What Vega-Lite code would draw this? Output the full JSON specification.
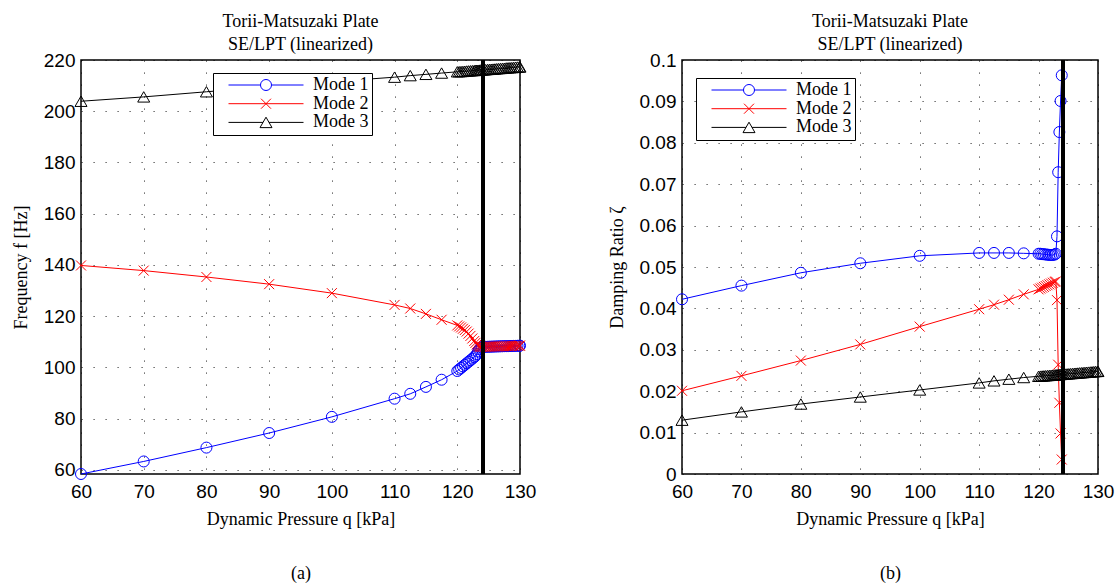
{
  "$schema": "https://vega.github.io/schema/vega-lite/v6.json",
  "background": "white",
  "padding": {"left": 11, "top": 12, "right": 2, "bottom": 2},
  "spacing": 70,
  "config": {
    "view": {"stroke": "black", "strokeWidth": 1.5},
    "axis": {
      "domain": false, "ticks": false, "grid": true, "gridColor": "black", "gridDash": [1.2, 10.8], "gridOpacity": 0.75, "gridWidth": 1, "labelFlush": false, "labelOverlap": false,
      "labelFont": "Liberation Sans", "labelFontSize": 19, "labelColor": "black", "labelPadding": 6,
      "titleFont": "Liberation Serif", "titleFontSize": 18, "titleFontWeight": "normal", "titleColor": "black", "titlePadding": 13
    },
    "title": {"font": "Liberation Serif", "fontSize": 18, "fontWeight": "normal", "color": "black", "lineHeight": 23, "anchor": "middle"}
  },
  "datasets": {
    "freq": [
      {"q":60,"m":"Mode 1","v":58.4},{"q":70,"m":"Mode 1","v":63.3},{"q":80,"m":"Mode 1","v":68.7},{"q":90,"m":"Mode 1","v":74.4},{"q":100,"m":"Mode 1","v":80.7},{"q":110,"m":"Mode 1","v":87.8},{"q":112.5,"m":"Mode 1","v":89.7},{"q":115,"m":"Mode 1","v":92.4},{"q":117.5,"m":"Mode 1","v":95.2},
      {"q":120,"m":"Mode 1","v":98.6},{"q":120.3,"m":"Mode 1","v":99.2},{"q":120.6,"m":"Mode 1","v":99.8},{"q":120.9,"m":"Mode 1","v":100.4},{"q":121.2,"m":"Mode 1","v":101.0},{"q":121.5,"m":"Mode 1","v":101.6},{"q":121.8,"m":"Mode 1","v":102.2},{"q":122.1,"m":"Mode 1","v":102.8},{"q":122.4,"m":"Mode 1","v":103.4},{"q":122.7,"m":"Mode 1","v":104.0},{"q":122.9,"m":"Mode 1","v":104.5},{"q":123.1,"m":"Mode 1","v":105.2},{"q":123.3,"m":"Mode 1","v":106.2},{"q":123.5,"m":"Mode 1","v":107.1},{"q":123.7,"m":"Mode 1","v":107.7},{"q":123.9,"m":"Mode 1","v":107.95},
      {"q":124.2,"m":"Mode 1","v":108.0},{"q":124.5,"m":"Mode 1","v":108.05},{"q":124.8,"m":"Mode 1","v":108.05},{"q":125.1,"m":"Mode 1","v":108.1},{"q":125.4,"m":"Mode 1","v":108.1},{"q":125.7,"m":"Mode 1","v":108.15},{"q":126,"m":"Mode 1","v":108.15},{"q":126.3,"m":"Mode 1","v":108.2},{"q":126.6,"m":"Mode 1","v":108.2},{"q":126.9,"m":"Mode 1","v":108.25},{"q":127.2,"m":"Mode 1","v":108.25},{"q":127.5,"m":"Mode 1","v":108.3},{"q":127.8,"m":"Mode 1","v":108.3},{"q":128.1,"m":"Mode 1","v":108.3},{"q":128.4,"m":"Mode 1","v":108.35},{"q":128.7,"m":"Mode 1","v":108.35},{"q":129,"m":"Mode 1","v":108.4},{"q":129.3,"m":"Mode 1","v":108.4},{"q":129.6,"m":"Mode 1","v":108.45},{"q":129.9,"m":"Mode 1","v":108.45},{"q":130,"m":"Mode 1","v":108.5},
      {"q":60,"m":"Mode 2","v":139.8},{"q":70,"m":"Mode 2","v":137.8},{"q":80,"m":"Mode 2","v":135.3},{"q":90,"m":"Mode 2","v":132.5},{"q":100,"m":"Mode 2","v":129.0},{"q":110,"m":"Mode 2","v":124.4},{"q":112.5,"m":"Mode 2","v":123.0},{"q":115,"m":"Mode 2","v":120.9},{"q":117.5,"m":"Mode 2","v":118.6},
      {"q":120,"m":"Mode 2","v":116.4},{"q":120.3,"m":"Mode 2","v":116.0},{"q":120.6,"m":"Mode 2","v":115.6},{"q":120.9,"m":"Mode 2","v":115.1},{"q":121.2,"m":"Mode 2","v":114.6},{"q":121.5,"m":"Mode 2","v":114.0},{"q":121.8,"m":"Mode 2","v":113.2},{"q":122.1,"m":"Mode 2","v":112.3},{"q":122.4,"m":"Mode 2","v":111.3},{"q":122.7,"m":"Mode 2","v":110.3},{"q":122.9,"m":"Mode 2","v":109.6},{"q":123.1,"m":"Mode 2","v":109.0},{"q":123.3,"m":"Mode 2","v":108.5},{"q":123.5,"m":"Mode 2","v":108.2},{"q":123.7,"m":"Mode 2","v":108.05},{"q":123.9,"m":"Mode 2","v":108.0},
      {"q":124.2,"m":"Mode 2","v":108.0},{"q":124.5,"m":"Mode 2","v":108.05},{"q":124.8,"m":"Mode 2","v":108.05},{"q":125.1,"m":"Mode 2","v":108.1},{"q":125.4,"m":"Mode 2","v":108.1},{"q":125.7,"m":"Mode 2","v":108.15},{"q":126,"m":"Mode 2","v":108.15},{"q":126.3,"m":"Mode 2","v":108.2},{"q":126.6,"m":"Mode 2","v":108.2},{"q":126.9,"m":"Mode 2","v":108.25},{"q":127.2,"m":"Mode 2","v":108.25},{"q":127.5,"m":"Mode 2","v":108.3},{"q":127.8,"m":"Mode 2","v":108.3},{"q":128.1,"m":"Mode 2","v":108.3},{"q":128.4,"m":"Mode 2","v":108.35},{"q":128.7,"m":"Mode 2","v":108.35},{"q":129,"m":"Mode 2","v":108.4},{"q":129.3,"m":"Mode 2","v":108.4},{"q":129.6,"m":"Mode 2","v":108.45},{"q":129.9,"m":"Mode 2","v":108.45},{"q":130,"m":"Mode 2","v":108.5},
      {"q":60,"m":"Mode 3","v":203.9},{"q":70,"m":"Mode 3","v":205.6},{"q":80,"m":"Mode 3","v":207.6},{"q":90,"m":"Mode 3","v":209.6},{"q":100,"m":"Mode 3","v":211.5},{"q":110,"m":"Mode 3","v":213.3},{"q":112.5,"m":"Mode 3","v":213.9},{"q":115,"m":"Mode 3","v":214.4},{"q":117.5,"m":"Mode 3","v":214.9},
      {"q":120,"m":"Mode 3","v":215.4},{"q":120.3,"m":"Mode 3","v":215.45},{"q":120.6,"m":"Mode 3","v":215.5},{"q":120.9,"m":"Mode 3","v":215.55},{"q":121.2,"m":"Mode 3","v":215.6},{"q":121.5,"m":"Mode 3","v":215.7},{"q":121.8,"m":"Mode 3","v":215.75},{"q":122.1,"m":"Mode 3","v":215.8},{"q":122.4,"m":"Mode 3","v":215.85},{"q":122.7,"m":"Mode 3","v":215.9},{"q":122.9,"m":"Mode 3","v":215.95},{"q":123.1,"m":"Mode 3","v":216.0},{"q":123.3,"m":"Mode 3","v":216.0},{"q":123.5,"m":"Mode 3","v":216.05},{"q":123.7,"m":"Mode 3","v":216.1},{"q":123.9,"m":"Mode 3","v":216.1},
      {"q":124.2,"m":"Mode 3","v":216.15},{"q":124.5,"m":"Mode 3","v":216.2},{"q":124.8,"m":"Mode 3","v":216.3},{"q":125.1,"m":"Mode 3","v":216.35},{"q":125.4,"m":"Mode 3","v":216.4},{"q":125.7,"m":"Mode 3","v":216.45},{"q":126,"m":"Mode 3","v":216.5},{"q":126.3,"m":"Mode 3","v":216.6},{"q":126.6,"m":"Mode 3","v":216.65},{"q":126.9,"m":"Mode 3","v":216.7},{"q":127.2,"m":"Mode 3","v":216.75},{"q":127.5,"m":"Mode 3","v":216.8},{"q":127.8,"m":"Mode 3","v":216.9},{"q":128.1,"m":"Mode 3","v":216.95},{"q":128.4,"m":"Mode 3","v":217.0},{"q":128.7,"m":"Mode 3","v":217.05},{"q":129,"m":"Mode 3","v":217.1},{"q":129.3,"m":"Mode 3","v":217.2},{"q":129.6,"m":"Mode 3","v":217.25},{"q":129.9,"m":"Mode 3","v":217.3},{"q":130,"m":"Mode 3","v":217.3}
    ],
    "damp": [
      {"q":60,"m":"Mode 1","v":0.0422},{"q":70,"m":"Mode 1","v":0.0455},{"q":80,"m":"Mode 1","v":0.0486},{"q":90,"m":"Mode 1","v":0.0509},{"q":100,"m":"Mode 1","v":0.0527},{"q":110,"m":"Mode 1","v":0.0534},{"q":112.5,"m":"Mode 1","v":0.0534},{"q":115,"m":"Mode 1","v":0.0534},{"q":117.5,"m":"Mode 1","v":0.0533},
      {"q":120,"m":"Mode 1","v":0.0532},{"q":120.3,"m":"Mode 1","v":0.0532},{"q":120.6,"m":"Mode 1","v":0.0531},{"q":120.9,"m":"Mode 1","v":0.0531},{"q":121.2,"m":"Mode 1","v":0.053},{"q":121.5,"m":"Mode 1","v":0.053},{"q":121.8,"m":"Mode 1","v":0.0529},{"q":122.1,"m":"Mode 1","v":0.0529},{"q":122.4,"m":"Mode 1","v":0.0529},{"q":122.7,"m":"Mode 1","v":0.053},{"q":122.9,"m":"Mode 1","v":0.0532},{"q":123.1,"m":"Mode 1","v":0.0574},{"q":123.3,"m":"Mode 1","v":0.0729},{"q":123.5,"m":"Mode 1","v":0.0826},{"q":123.7,"m":"Mode 1","v":0.0901},{"q":123.9,"m":"Mode 1","v":0.0963},
      {"q":60,"m":"Mode 2","v":0.0201},{"q":70,"m":"Mode 2","v":0.0237},{"q":80,"m":"Mode 2","v":0.0274},{"q":90,"m":"Mode 2","v":0.0313},{"q":100,"m":"Mode 2","v":0.0356},{"q":110,"m":"Mode 2","v":0.0398},{"q":112.5,"m":"Mode 2","v":0.0409},{"q":115,"m":"Mode 2","v":0.0421},{"q":117.5,"m":"Mode 2","v":0.0434},
      {"q":120,"m":"Mode 2","v":0.0446},{"q":120.3,"m":"Mode 2","v":0.0448},{"q":120.6,"m":"Mode 2","v":0.045},{"q":120.9,"m":"Mode 2","v":0.0452},{"q":121.2,"m":"Mode 2","v":0.0454},{"q":121.5,"m":"Mode 2","v":0.0456},{"q":121.8,"m":"Mode 2","v":0.0458},{"q":122.1,"m":"Mode 2","v":0.046},{"q":122.4,"m":"Mode 2","v":0.0462},{"q":122.7,"m":"Mode 2","v":0.0464},{"q":122.9,"m":"Mode 2","v":0.0465},{"q":123.1,"m":"Mode 2","v":0.042},{"q":123.3,"m":"Mode 2","v":0.0264},{"q":123.5,"m":"Mode 2","v":0.0172},{"q":123.7,"m":"Mode 2","v":0.0098},{"q":123.9,"m":"Mode 2","v":0.0035},
      {"q":60,"m":"Mode 3","v":0.013},{"q":70,"m":"Mode 3","v":0.015},{"q":80,"m":"Mode 3","v":0.0169},{"q":90,"m":"Mode 3","v":0.0186},{"q":100,"m":"Mode 3","v":0.0203},{"q":110,"m":"Mode 3","v":0.022},{"q":112.5,"m":"Mode 3","v":0.0225},{"q":115,"m":"Mode 3","v":0.0229},{"q":117.5,"m":"Mode 3","v":0.0233},
      {"q":120,"m":"Mode 3","v":0.0236},{"q":120.3,"m":"Mode 3","v":0.02364},{"q":120.6,"m":"Mode 3","v":0.02367},{"q":120.9,"m":"Mode 3","v":0.02371},{"q":121.2,"m":"Mode 3","v":0.02374},{"q":121.5,"m":"Mode 3","v":0.02378},{"q":121.8,"m":"Mode 3","v":0.02382},{"q":122.1,"m":"Mode 3","v":0.02385},{"q":122.4,"m":"Mode 3","v":0.02389},{"q":122.7,"m":"Mode 3","v":0.02392},{"q":122.9,"m":"Mode 3","v":0.02395},{"q":123.1,"m":"Mode 3","v":0.02397},{"q":123.3,"m":"Mode 3","v":0.024},{"q":123.5,"m":"Mode 3","v":0.02402},{"q":123.7,"m":"Mode 3","v":0.02404},{"q":123.9,"m":"Mode 3","v":0.02407},
      {"q":124.2,"m":"Mode 3","v":0.0241},{"q":124.5,"m":"Mode 3","v":0.02414},{"q":124.8,"m":"Mode 3","v":0.02418},{"q":125.1,"m":"Mode 3","v":0.02421},{"q":125.4,"m":"Mode 3","v":0.02425},{"q":125.7,"m":"Mode 3","v":0.02428},{"q":126,"m":"Mode 3","v":0.02432},{"q":126.3,"m":"Mode 3","v":0.02436},{"q":126.6,"m":"Mode 3","v":0.02439},{"q":126.9,"m":"Mode 3","v":0.02443},{"q":127.2,"m":"Mode 3","v":0.02446},{"q":127.5,"m":"Mode 3","v":0.0245},{"q":127.8,"m":"Mode 3","v":0.02454},{"q":128.1,"m":"Mode 3","v":0.02457},{"q":128.4,"m":"Mode 3","v":0.02461},{"q":128.7,"m":"Mode 3","v":0.02464},{"q":129,"m":"Mode 3","v":0.02468},{"q":129.3,"m":"Mode 3","v":0.02472},{"q":129.6,"m":"Mode 3","v":0.02475},{"q":129.9,"m":"Mode 3","v":0.02479},{"q":130,"m":"Mode 3","v":0.0248}
    ]
  },
  "resolve": {"scale": {"color": "independent", "shape": "independent", "size": "independent"}, "legend": {"color": "independent"}},
  "hconcat": [
    {
      "width": 439,
      "height": 414,
      "title": {"text": ["Torii-Matsuzaki Plate", "SE/LPT (linearized)"], "offset": -3},
      "data": {"name": "freq"},
      "layer": [
        {
          "mark": {"type": "line", "strokeWidth": 1},
          "encoding": {
            "x": {"field": "q", "type": "quantitative", "scale": {"domain": [60, 130], "nice": false, "zero": false}, "axis": {"values": [60, 70, 80, 90, 100, 110, 120, 130], "title": ["Dynamic Pressure q [kPa]", "(a)"], "titleLineHeight": 54, "labelPadding": 8, "titlePadding": 9}},
            "y": {"field": "v", "type": "quantitative", "scale": {"domain": [58.4, 220], "nice": false, "zero": false}, "axis": {"values": [60, 80, 100, 120, 140, 160, 180, 200, 220], "title": "Frequency f [Hz]"}},
            "color": {"field": "m", "type": "nominal", "scale": {"domain": ["Mode 1", "Mode 2", "Mode 3"], "range": ["#0000ff", "#ff0000", "#000000"]},
              "legend": {"orient": "none", "legendX": 132, "legendY": 13, "title": null, "strokeColor": "black", "fillColor": "white", "padding": 3, "symbolSize": 5625, "symbolStrokeWidth": 1, "symbolOffset": 12, "labelOffset": 9, "clipHeight": 18, "rowPadding": 0.7, "labelFont": "Liberation Serif", "labelFontSize": 18, "labelColor": "black", "labelExpr": "datum.label + '\u00a0\u00a0\u00a0\u00a0'",
                "encode": {"symbols": {"update": {"shape": {"signal": "datum.value === 'Mode 1' ? 'M-1,0H-0.147M0.147,0H1M0.147,0A0.147,0.147,0,1,1,-0.147,0A0.147,0.147,0,1,1,0.147,0' : datum.value === 'Mode 2' ? 'M-1,0H1M-0.133,-0.133L0.133,0.133M-0.133,0.133L0.133,-0.133' : 'M-1,0H-0.08M0.08,0H1M0,-0.139L0.16,0.139L-0.16,0.139Z'"}, "fill": {"value": "transparent"}}}}}},
            "detail": {"field": "m"}
          }
        },
        {
          "mark": {"type": "point", "filled": false, "strokeWidth": 1, "opacity": 1},
          "encoding": {
            "x": {"field": "q", "type": "quantitative"},
            "y": {"field": "v", "type": "quantitative"},
            "color": {"field": "m", "type": "nominal", "legend": null},
            "shape": {"field": "m", "type": "nominal", "scale": {"domain": ["Mode 3", "Mode 2", "Mode 1"], "range": ["triangle-up", "M-1,-1L1,1M-1,1L1,-1", "circle"]}, "legend": null},
            "size": {"field": "m", "type": "nominal", "scale": {"type": "ordinal", "domain": ["Mode 2", "Mode 3", "Mode 1"], "range": [100, 144, 121]}, "legend": null}
          }
        },
        {
          "mark": {"type": "rule", "color": "black", "strokeWidth": 3},
          "encoding": {"x": {"datum": 124.1}}
        }
      ]
    },
    {
      "width": 416,
      "height": 414,
      "title": {"text": ["Torii-Matsuzaki Plate", "SE/LPT (linearized)"], "offset": -3},
      "data": {"name": "damp"},
      "layer": [
        {
          "mark": {"type": "line", "strokeWidth": 1},
          "encoding": {
            "x": {"field": "q", "type": "quantitative", "scale": {"domain": [60, 130], "nice": false, "zero": false}, "axis": {"values": [60, 70, 80, 90, 100, 110, 120, 130], "title": ["Dynamic Pressure q [kPa]", "(b)"], "titleLineHeight": 54, "labelPadding": 8, "titlePadding": 9}},
            "y": {"field": "v", "type": "quantitative", "scale": {"domain": [0, 0.1], "nice": false, "zero": false}, "axis": {"values": [0, 0.01, 0.02, 0.03, 0.04, 0.05, 0.06, 0.07, 0.08, 0.09, 0.1], "format": ".2~f", "title": "Damping Ratio ζ"}},
            "color": {"field": "m", "type": "nominal", "scale": {"domain": ["Mode 1", "Mode 2", "Mode 3"], "range": ["#0000ff", "#ff0000", "#000000"]},
              "legend": {"orient": "none", "legendX": 14, "legendY": 18, "title": null, "strokeColor": "black", "fillColor": "white", "padding": 3, "symbolSize": 5625, "symbolStrokeWidth": 1, "symbolOffset": 12, "labelOffset": 9, "clipHeight": 18, "rowPadding": 0.7, "labelFont": "Liberation Serif", "labelFontSize": 18, "labelColor": "black", "labelExpr": "datum.label + '\u00a0\u00a0\u00a0\u00a0'",
                "encode": {"symbols": {"update": {"shape": {"signal": "datum.value === 'Mode 1' ? 'M-1,0H-0.147M0.147,0H1M0.147,0A0.147,0.147,0,1,1,-0.147,0A0.147,0.147,0,1,1,0.147,0' : datum.value === 'Mode 2' ? 'M-1,0H1M-0.133,-0.133L0.133,0.133M-0.133,0.133L0.133,-0.133' : 'M-1,0H-0.08M0.08,0H1M0,-0.139L0.16,0.139L-0.16,0.139Z'"}, "fill": {"value": "transparent"}}}}}},
            "detail": {"field": "m"}
          }
        },
        {
          "mark": {"type": "point", "filled": false, "strokeWidth": 1, "opacity": 1},
          "encoding": {
            "x": {"field": "q", "type": "quantitative"},
            "y": {"field": "v", "type": "quantitative"},
            "color": {"field": "m", "type": "nominal", "legend": null},
            "shape": {"field": "m", "type": "nominal", "scale": {"domain": ["Mode 3", "Mode 2", "Mode 1"], "range": ["triangle-up", "M-1,-1L1,1M-1,1L1,-1", "circle"]}, "legend": null},
            "size": {"field": "m", "type": "nominal", "scale": {"type": "ordinal", "domain": ["Mode 2", "Mode 3", "Mode 1"], "range": [100, 144, 121]}, "legend": null}
          }
        },
        {
          "mark": {"type": "rule", "color": "black", "strokeWidth": 3},
          "encoding": {"x": {"datum": 124.1}}
        }
      ]
    }
  ]
}
